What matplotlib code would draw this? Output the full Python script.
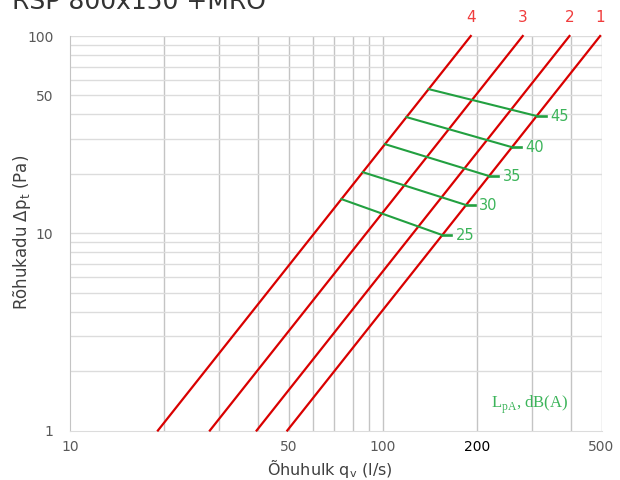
import matplotlib.pyplot as plt
from matplotlib.ticker import FixedLocator, NullFormatter

# red system lines: flow (l/s) at dp=1 Pa and dp=100 Pa
line_names = ['1', '2', '3', '4']
line_q = [[49.5, 495], [39.5, 395], [28.0, 280], [19.1, 191]]
line_dp = [[1, 100], [1, 100], [1, 100], [1, 100]]

# green sound level lines (start on line 4, end on line 1)
lpa_levels = ['25', '30', '35', '40', '45']
lpa_q = [[73.7, 154.9], [86.3, 184.5], [101.6, 218.6], [119.0, 259.0], [140.1, 310.3]]
lpa_dp = [[14.9, 9.79], [20.4, 13.9], [28.3, 19.5], [38.8, 27.3], [53.8, 39.3]]

x_ticks = [10, 50, 100, 200, 500]
y_ticks = [1, 10, 50, 100]
x_grid = [20, 30, 40, 50, 60, 70, 80, 90, 100, 200, 300, 400, 500]
y_grid = [2, 3, 4, 5, 6, 7, 8, 9, 10, 20, 30, 40, 50, 60, 70, 80, 90, 100]

plt.rcParams['font.family'] = ['DejaVu Sans']
red = '#d90000'
green_line = '#22a040'
green_txt = '#3cb45a'
grey = '#595959'

fig = plt.figure(figsize=(6.2, 4.8), dpi=100)
ax = fig.add_axes([70 / 620, 1 - 430.5 / 480, 531.5 / 620, 394.5 / 480])
ax.set_xscale('log')
ax.set_yscale('log')
ax.set_xlim(10, 500)
ax.set_ylim(1, 100)

for g in x_grid:
    ax.axvline(g, color='#c4c4c4', lw=1, zorder=0)
for g in y_grid:
    ax.axhline(g, color='#dcdcdc', lw=1, zorder=0)

for s in ['top', 'right']:
    ax.spines[s].set_visible(False)
ax.spines['left'].set_color('#c4c4c4')
ax.spines['bottom'].set_color('#dcdcdc')

ax.xaxis.set_major_locator(FixedLocator(x_ticks))
ax.xaxis.set_minor_locator(FixedLocator([]))
ax.yaxis.set_major_locator(FixedLocator(y_ticks))
ax.yaxis.set_minor_locator(FixedLocator([]))
ax.xaxis.set_minor_formatter(NullFormatter())
ax.yaxis.set_minor_formatter(NullFormatter())
ax.set_xticklabels([str(t) for t in x_ticks])
ax.set_yticklabels([str(t) for t in y_ticks])
ax.tick_params(axis='x', length=0, pad=7, labelsize=10, labelcolor=grey)
ax.tick_params(axis='y', length=0, pad=12, labelsize=10, labelcolor=grey)
ax.get_xticklabels()[3].set_color('black')

for name, q, dp in zip(line_names, line_q, line_dp):
    ax.plot(q, dp, color=red, lw=1.6, zorder=3, clip_on=False)
    ax.annotate(name, (q[1], dp[1]), xytext=(0, 8), textcoords='offset points',
                ha='center', va='bottom', color='#f03c3c', fontsize=11)

for lvl, q, dp in zip(lpa_levels, lpa_q, lpa_dp):
    ax.plot(q, dp, color=green_line, lw=1.5, zorder=4)
    ax.plot([q[1], q[1] * 1.07], [dp[1], dp[1]], color=green_line, lw=1.9, zorder=4)
    ax.annotate(lvl, (q[1] * 1.07, dp[1]), xytext=(3, 0), textcoords='offset points',
                ha='left', va='center', color=green_txt, fontsize=10.5)

ax.text(0.865, 0.065, r'L$_\mathregular{pA}$, dB(A)', transform=ax.transAxes,
        ha='center', va='center', color=green_txt, fontsize=12,
        family=['Liberation Serif', 'DejaVu Serif'])

fig.text(330 / 620, 1 - 469 / 480, r'Õhuhulk q$_\mathregular{v}$ (l/s)', fontsize=11.5,
         color='#404040', ha='center', va='center')
fig.text(22 / 620, 1 - 232 / 480, r'Rõhukadu Δp$_\mathregular{t}$ (Pa)', fontsize=12,
         color='#404040', ha='center', va='center', rotation=90)

fig.text(12 / 620, 1 - 9 / 480, 'RSP 800x150 +MRO', fontsize=18, color='#333333',
         ha='left', va='baseline')

fig.savefig('out.png', dpi=100)
